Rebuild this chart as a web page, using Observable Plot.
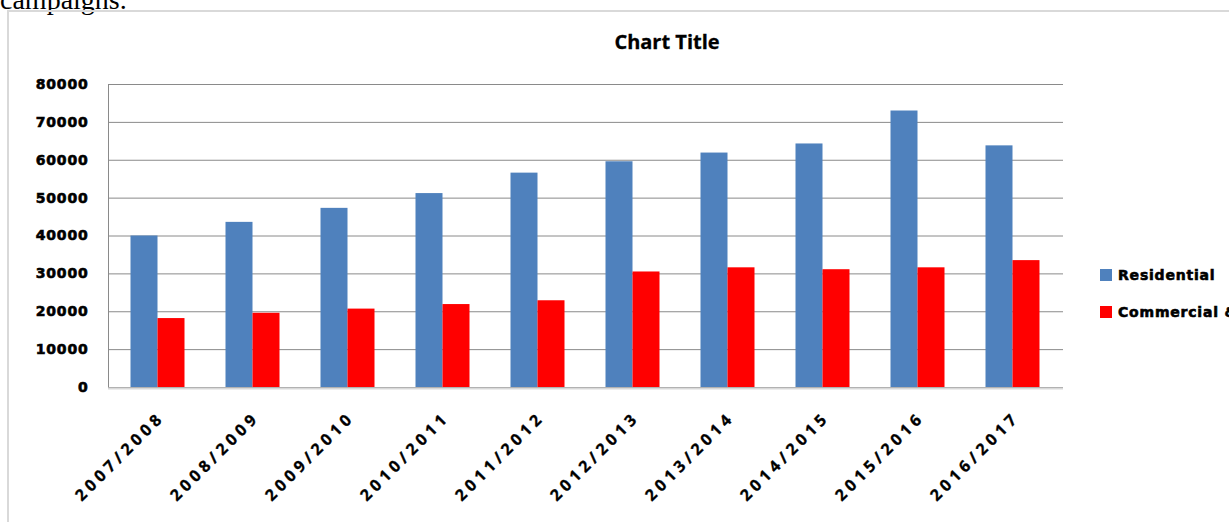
<!DOCTYPE html>
<html>
<head>
<meta charset="utf-8">
<script src="https://cdn.jsdelivr.net/npm/d3@7"></script>
<script src="https://cdn.jsdelivr.net/npm/@observablehq/plot@0.6"></script>
<style>
  html, body { margin: 0; padding: 0; background: #fff; }
  body { width: 1229px; height: 522px; overflow: hidden; position: relative; }
  #lead { position: absolute; left: 0; top: -16px; font: 28px "Liberation Serif", "Times New Roman", serif; color: #000; white-space: nowrap; }
  #frame { position: absolute; left: 7px; top: 10px; width: 1320px; height: 600px; border: 2px solid #d9d9d9; box-sizing: border-box; }
  #title { position: absolute; left: 567px; width: 200px; top: 28px; text-align: center; font: bold 20px "Open Sans", sans-serif; color: #000; -webkit-text-stroke: 0.3px #000; }
  #chart { position: absolute; left: 0; top: 0; }
  #chart svg { overflow: visible; }
  g[aria-label="y-axis tick label"] { letter-spacing: 0.8px; }
  g[aria-label="y-axis tick label"] text { stroke: #000; stroke-width: 0.6px; }
  g[aria-label="x-axis tick label"] { letter-spacing: 4.3px; }
  g[aria-label="x-axis tick label"] text { stroke: #000; stroke-width: 0.3px; }
  .legend { position: absolute; left: 1100px; font: bold 14px "DejaVu Sans", sans-serif; letter-spacing: 0.8px; white-space: nowrap; color: #000; -webkit-text-stroke: 0.6px #000; }
  .legend span.sw { display: inline-block; width: 12px; height: 12px; margin-right: 6px; vertical-align: -1px; }
</style>
</head>
<body>
<div id="lead">campaigns.</div>
<div id="frame"></div>
<div id="title">Chart Title</div>
<div id="chart"></div>
<div class="legend" style="top:267px"><span class="sw" style="background:#4F81BD"></span>Residential</div>
<div class="legend" style="top:304px"><span class="sw" style="background:#FF0000"></span>Commercial &amp; Industrial</div>
<script>
const years = ["2007/2008","2008/2009","2009/2010","2010/2011","2011/2012","2012/2013","2013/2014","2014/2015","2015/2016","2016/2017"];
const residential = [40000, 43600, 47300, 51200, 56600, 59600, 61900, 64300, 73000, 63800];
const commercial = [18200, 19600, 20700, 21900, 22900, 30500, 31600, 31100, 31600, 33500];
const yTicks = [0, 10000, 20000, 30000, 40000, 50000, 60000, 70000, 80000];
const seriesNames = ["Residential", "Commercial & Industrial"];
const seriesColors = ["#4F81BD", "#FF0000"];

const resRows = years.map((y, i) => ({year: y, value: residential[i], series: seriesNames[0]}));
const comRows = years.map((y, i) => ({year: y, value: commercial[i], series: seriesNames[1]}));

const chart = Plot.plot({
  width: 1229,
  height: 522,
  marginLeft: 108,
  marginRight: 166,
  marginTop: 84,
  marginBottom: 135,
  style: {background: "transparent", color: "#000"},
  x: {type: "band", domain: years, paddingInner: 0.717, paddingOuter: 0.3585, align: 0.5},
  y: {domain: [0, 80000], ticks: yTicks},
  color: {domain: seriesNames, range: seriesColors},
  marks: [
    Plot.gridY(yTicks, {stroke: "#8a8a8a", strokeOpacity: 1, strokeWidth: 1}),
    Plot.frame({anchor: "left", stroke: "#8a8a8a", strokeWidth: 1}),
    Plot.barY(resRows, {x: "year", y: "value", fill: "series", dx: -14.5}),
    Plot.barY(comRows, {x: "year", y: "value", fill: "series", dx: 12.5}),
    Plot.ruleY([0], {stroke: "#d9d9d9", strokeWidth: 2, dy: 1}),
    Plot.axisY(yTicks, {tickSize: 0, tickPadding: 20, fontSize: 14, fontWeight: "bold", fontFamily: "DejaVu Sans", tickFormat: d => String(d), label: null}),
    Plot.axisX({tickSize: 0, tickPadding: 27, tickRotate: -45, textAnchor: "end", dx: 3, fontSize: 16, fontWeight: "bold", fontFamily: "Open Sans", label: null})
  ]
});
document.getElementById("chart").appendChild(chart);
</script>
</body>
</html>
